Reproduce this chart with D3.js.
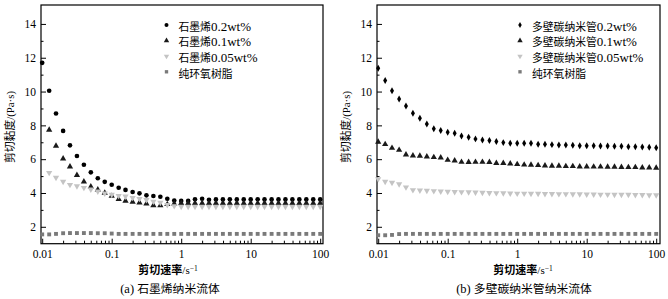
<!DOCTYPE html>
<html><head><meta charset="utf-8">
<script src="https://cdn.jsdelivr.net/npm/d3@7"></script>
<style>
body{margin:0;background:#fff;}
svg{display:block;}
text{font-family:"Liberation Serif","Noto Sans CJK SC",serif;fill:#000;}
</style></head>
<body><svg id="c" width="668" height="299"></svg>
<script>
// shear rates (1/s)
const shearRates = [0.01,0.0126,0.0158,0.02,0.0251,0.0316,0.0398,0.0501,0.0631,0.0794,
 0.1,0.126,0.158,0.2,0.251,0.316,0.398,0.501,0.631,0.794,
 1,1.26,1.58,2,2.51,3.16,3.98,5.01,6.31,7.94,
 10,12.6,15.8,20,25.1,31.6,39.8,50.1,63.1,79.4,100];
const xTickValues = [0.01,0.1,1,10,100];
const xTickLabels = ["0.01","0.1","1","10","100"];
const yTickValues = [2,4,6,8,10,12,14];

// (a) graphene
const graphene02 = [11.7,10.05,8.7,7.67,6.82,6.19,5.67,5.22,4.87,4.66,4.49,4.31,4.18,4.06,3.98,3.86,3.82,3.78,3.66,3.55,3.53,3.53,3.63,3.66,3.6,3.62,3.62,3.63,3.62,3.62,3.62,3.63,3.62,3.62,3.62,3.62,3.62,3.62,3.62,3.62,3.62];
const graphene01 = [null,7.73,6.78,6.03,5.56,5.05,4.67,4.37,4.2,4.0,3.82,3.63,3.53,3.47,3.43,3.37,3.27,3.27,3.33,3.37,3.4,3.4,3.4,3.4,3.4,3.4,3.4,3.4,3.4,3.4,3.4,3.4,3.4,3.4,3.4,3.4,3.4,3.4,3.4,3.4,3.4];
const graphene005 = [null,5.2,4.91,4.67,4.49,4.41,4.31,4.22,4.1,3.98,3.9,3.84,3.8,3.72,3.66,3.59,3.5,3.43,3.3,3.23,3.2,3.2,3.2,3.2,3.2,3.2,3.2,3.2,3.2,3.2,3.2,3.2,3.2,3.2,3.2,3.2,3.2,3.2,3.2,3.2,3.2];
const epoxyA = [1.55,1.55,1.58,1.62,1.63,1.63,1.63,1.63,1.62,1.62,1.6,1.58,1.58,1.58,1.58,1.58,1.58,1.58,1.58,1.58,1.58,1.58,1.58,1.58,1.58,1.58,1.58,1.58,1.58,1.58,1.58,1.58,1.58,1.58,1.58,1.58,1.58,1.58,1.58,1.58,1.58];

// (b) MWCNT
const mwcnt02 = [11.38,10.65,10.05,9.56,9.15,8.72,8.42,8.08,7.8,7.69,7.59,7.53,7.37,7.3,7.2,7.14,7.1,7.04,6.98,6.94,6.94,6.94,6.94,6.88,6.88,6.86,6.84,6.84,6.82,6.8,6.8,6.8,6.78,6.78,6.76,6.76,6.74,6.74,6.72,6.7,6.68];
const mwcnt01 = [7.02,6.88,6.66,6.54,6.27,6.21,6.19,6.15,6.11,6.09,5.95,5.91,5.83,5.82,5.83,5.83,5.82,5.76,5.76,5.73,5.7,5.67,5.66,5.64,5.62,5.6,5.6,5.58,5.58,5.56,5.56,5.55,5.55,5.54,5.54,5.53,5.52,5.52,5.5,5.5,5.48];
const mwcnt005 = [4.83,4.67,4.61,4.53,4.34,4.18,4.16,4.14,4.12,4.1,4.08,4.07,4.06,4.05,4.04,4.02,4.01,4.0,3.99,3.98,3.97,3.97,3.96,3.96,3.95,3.95,3.94,3.94,3.93,3.93,3.92,3.92,3.91,3.91,3.9,3.9,3.9,3.89,3.89,3.88,3.88];
const epoxyB = [1.5,1.5,1.52,1.57,1.58,1.58,1.58,1.58,1.58,1.58,1.58,1.58,1.58,1.58,1.58,1.58,1.58,1.58,1.58,1.58,1.58,1.58,1.58,1.58,1.58,1.58,1.58,1.58,1.58,1.58,1.58,1.58,1.58,1.58,1.58,1.58,1.58,1.58,1.58,1.58,1.58];

const legendA = [["石墨烯","0.2wt%"],["石墨烯","0.1wt%"],["石墨烯","0.05wt%"],["纯环氧树脂",""]];
const legendB = [["多壁碳纳米管","0.2wt%"],["多壁碳纳米管","0.1wt%"],["多壁碳纳米管","0.05wt%"],["纯环氧树脂",""]];
const yTitle = "剪切黏度/(Pa·s)";
const xTitle = "剪切速率";
const captionA = ["(a) ","石墨烯纳米流体"];
const captionB = ["(b) ","多壁碳纳米管纳米流体"];

const svg = d3.select("#c");

const styles = [
  {sym:d3.symbolCircle, size:17, fill:"#000"},
  {sym:d3.symbolTriangle, size:17, fill:"#1a1a1a"},
  {sym:d3.symbolTriangle, size:17, fill:"#c4c4c4", rot:180},
  {sym:d3.symbolSquare, size:15, fill:"#7a7a7a"}
];
const stylesB = styles.slice(); stylesB[0] = {sym:d3.symbolDiamond, size:14, fill:"#000"};

function panel(left, width, series, st, legend, legX, caption, titleX, capX){
  const top=5, bottom=243.7;
  const pxDec = 69.5;
  const x0 = 0.01/Math.pow(10,1.2/pxDec);
  const x1 = 100*Math.pow(10,(width-4*pxDec-1.2)/pxDec);
  const x = d3.scaleLog().domain([x0,x1]).range([left,left+width]);
  const y = d3.scaleLinear().domain([1,15.12]).range([bottom,top]);
  const g = svg.append("g");

  // minor x ticks
  const minor=[];
  [0.01,0.1,1,10].forEach(d=>{for(let k=2;k<=9;k++) minor.push(d*k);});
  g.append("g").attr("transform",`translate(0,${bottom})`)
    .call(d3.axisBottom(x).tickValues(minor).tickSize(-3).tickFormat(""))
    .call(a=>a.select(".domain").remove());
  g.append("g").attr("transform",`translate(0,${bottom})`)
    .call(d3.axisBottom(x).tickValues(xTickValues).tickSize(-5).tickPadding(6).tickFormat((d,i)=>xTickLabels[i]))
    .call(a=>a.select(".domain").remove())
    .call(a=>a.selectAll("text").attr("font-size",11.5).attr("font-family","Liberation Serif"));
  // y ticks
  g.append("g").attr("transform",`translate(${left},0)`)
    .call(d3.axisLeft(y).tickValues([3,5,7,9,11,13]).tickSize(-2.5).tickFormat(""))
    .call(a=>a.select(".domain").remove());
  g.append("g").attr("transform",`translate(${left},0)`)
    .call(d3.axisLeft(y).tickValues(yTickValues).tickSize(-5).tickPadding(5))
    .call(a=>a.select(".domain").remove())
    .call(a=>a.selectAll("text").attr("font-size",11.5).attr("font-family","Liberation Serif"));
  g.selectAll(".tick line").attr("stroke","#000").attr("stroke-width",1);

  // frame
  g.append("rect").attr("x",left).attr("y",top).attr("width",width).attr("height",bottom-top)
    .attr("fill","none").attr("stroke","#000").attr("stroke-width",1.2);

  // data
  series.forEach((s,si)=>{
    const sty = st[si];
    const sym = d3.symbol().type(sty.sym).size(sty.size);
    g.append("g").selectAll("path")
      .data(shearRates.map((r,i)=>[r,s[i]]).filter(d=>d[1]!=null))
      .join("path")
      .attr("d",sym)
      .attr("fill",sty.fill)
      .attr("transform",d=>`translate(${x(d[0])},${y(d[1])})${sty.rot?" rotate(180)":""}`);
  });

  // legend
  legend.forEach((l,i)=>{
    const ly = 25 + i*15.6;
    const sty = st[i];
    g.append("path").attr("d",d3.symbol().type(sty.sym).size(sty.size*0.75))
      .attr("fill",sty.fill)
      .attr("transform",`translate(${legX},${ly})${sty.rot?" rotate(180)":""}`);
    const t = g.append("text").attr("x",legX+12).attr("y",ly).attr("dy","0.36em");
    t.append("tspan").attr("font-family","Noto Sans CJK SC").attr("font-size",10.8).text(l[0]);
    t.append("tspan").attr("font-family","Liberation Serif").attr("font-size",13).text(l[1]);
  });

  // y title
  g.append("text").attr("transform",`translate(${left-27},${127}) rotate(-90)`)
    .attr("text-anchor","middle").attr("font-size",10.8).attr("font-family","Noto Sans CJK SC").text(yTitle);

  // x title
  const xt = g.append("text").attr("x",titleX).attr("y",268.5).attr("dy","0.36em").attr("text-anchor","middle");
  xt.append("tspan").attr("font-family","Noto Sans CJK SC").attr("font-size",11).attr("font-weight","bold").text(xTitle);
  xt.append("tspan").attr("font-family","Liberation Serif").attr("font-size",11).text("/s");
  xt.append("tspan").attr("font-family","Liberation Serif").attr("font-size",7.5).attr("dy","-0.5em").text("−1");

  // caption
  const ct = g.append("text").attr("x",capX).attr("y",287).attr("dy","0.36em").attr("text-anchor","middle");
  ct.append("tspan").attr("font-family","Liberation Serif").attr("font-size",12.5).text(caption[0]);
  ct.append("tspan").attr("font-family","Noto Sans CJK SC").attr("font-size",11.8).text(caption[1]);
}

panel(41, 282, [graphene02,graphene01,graphene005,epoxyA], styles, legendA, 166.5, captionA, 168, 170);
panel(377, 283, [mwcnt02,mwcnt01,mwcnt005,epoxyB], stylesB, legendB, 520, captionB, 523, 524);
</script></body></html>
